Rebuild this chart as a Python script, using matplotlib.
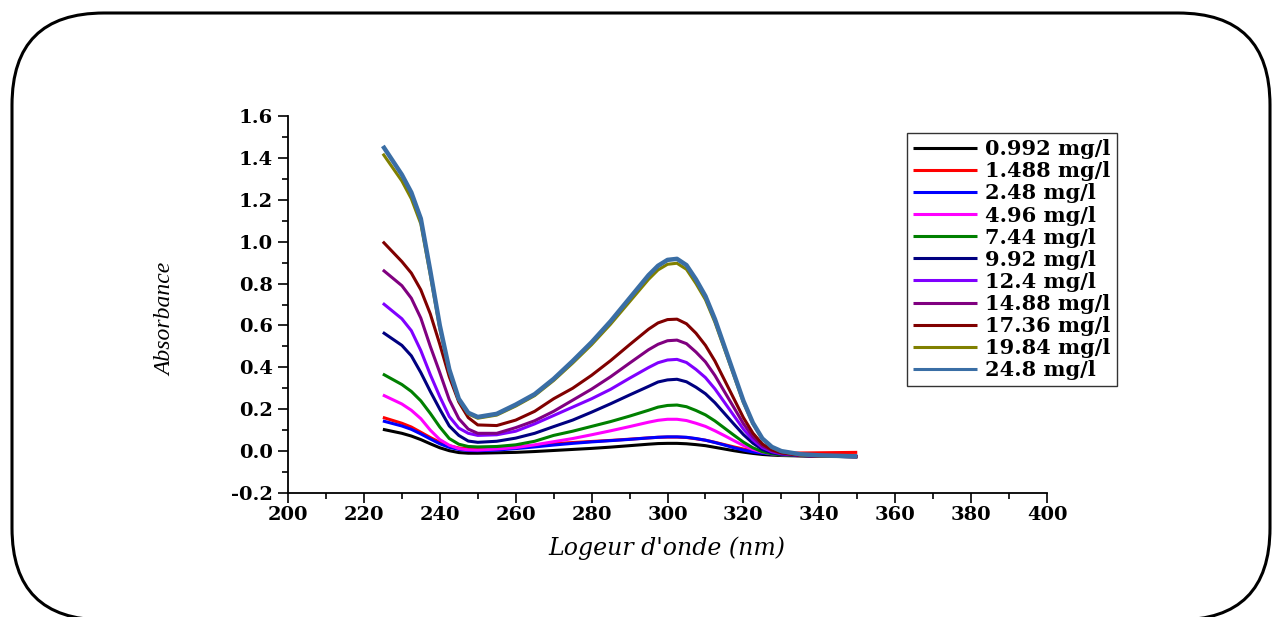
import matplotlib
matplotlib.use("Agg")
import matplotlib.pyplot as plt
from matplotlib.patches import FancyBboxPatch
from matplotlib.ticker import MultipleLocator

plt.rcParams["axes.unicode_minus"] = False

# wavelength grid (nm), denser where the curves bend
wavelength = [225, 230, 232.5, 235, 237.5, 240, 242.5, 245, 247.5, 250, 255, 260, 265, 270, 275, 280,
              285, 290, 295, 297.5, 300, 302.5, 305, 307.5, 310, 312.5, 315, 317.5, 320, 322.5,
              325, 327.5, 330, 335, 340, 350]

# absorbance per concentration
c_0992 = [0.104, 0.085, 0.072, 0.055, 0.035, 0.016, 0.002, -0.007, -0.010, -0.010, -0.008, -0.006,
          -0.002, 0.003, 0.008, 0.013, 0.019, 0.026, 0.033, 0.036, 0.037, 0.037, 0.035, 0.031, 0.026,
          0.018, 0.010, 0.002, -0.005, -0.011, -0.016, -0.019, -0.021, -0.023, -0.024, -0.026]
c_1488 = [0.161, 0.133, 0.115, 0.090, 0.065, 0.042, 0.025, 0.015, 0.011, 0.010, 0.014, 0.020,
          0.027, 0.035, 0.041, 0.046, 0.051, 0.057, 0.063, 0.066, 0.067, 0.067, 0.065, 0.059, 0.052,
          0.042, 0.031, 0.020, 0.010, 0.002, -0.004, -0.008, -0.010, -0.009, -0.008, -0.006]
c_248 = [0.144, 0.120, 0.104, 0.082, 0.058, 0.035, 0.018, 0.008, 0.003, 0.002, 0.005, 0.012,
         0.020, 0.029, 0.037, 0.044, 0.050, 0.056, 0.063, 0.066, 0.068, 0.068, 0.066, 0.060, 0.052,
         0.041, 0.029, 0.016, 0.005, -0.004, -0.010, -0.014, -0.017, -0.020, -0.021, -0.023]
c_496 = [0.268, 0.225, 0.195, 0.155, 0.100, 0.055, 0.028, 0.012, 0.006, 0.005, 0.010, 0.017,
         0.030, 0.045, 0.060, 0.078, 0.097, 0.117, 0.138, 0.147, 0.152, 0.152, 0.146, 0.133, 0.118,
         0.097, 0.074, 0.050, 0.027, 0.008, -0.005, -0.013, -0.018, -0.022, -0.024, -0.026]
c_744 = [0.368, 0.318, 0.285, 0.240, 0.180, 0.115, 0.060, 0.033, 0.022, 0.020, 0.022, 0.030,
         0.047, 0.075, 0.095, 0.118, 0.141, 0.167, 0.195, 0.210, 0.218, 0.220, 0.212, 0.194, 0.173,
         0.144, 0.110, 0.076, 0.043, 0.016, -0.003, -0.013, -0.018, -0.022, -0.025, -0.027]
c_992 = [0.567, 0.505, 0.455, 0.375, 0.285, 0.200, 0.120, 0.075, 0.048, 0.042, 0.047, 0.062,
         0.085, 0.117, 0.148, 0.186, 0.226, 0.268, 0.309, 0.330, 0.340, 0.343, 0.331, 0.305, 0.274,
         0.231, 0.180, 0.129, 0.079, 0.038, 0.008, -0.008, -0.015, -0.021, -0.024, -0.027]
c_124 = [0.706, 0.632, 0.575, 0.480, 0.365, 0.260, 0.165, 0.110, 0.085, 0.075, 0.078, 0.095,
         0.130, 0.170, 0.210, 0.250, 0.295, 0.348, 0.399, 0.422, 0.435, 0.438, 0.423, 0.390, 0.351,
         0.297, 0.233, 0.169, 0.105, 0.054, 0.017, -0.003, -0.013, -0.020, -0.024, -0.027]
c_1488b = [0.865, 0.790, 0.730, 0.635, 0.500, 0.375, 0.245, 0.155, 0.105, 0.085, 0.085, 0.112,
           0.145, 0.190, 0.243, 0.296, 0.355, 0.420, 0.484, 0.510, 0.527, 0.530, 0.513, 0.473, 0.426,
           0.361, 0.284, 0.208, 0.131, 0.069, 0.025, 0.002, -0.010, -0.020, -0.024, -0.027]
c_1736 = [1.000, 0.905, 0.850, 0.770, 0.655, 0.510, 0.355, 0.235, 0.160, 0.125, 0.122, 0.148,
          0.190, 0.250, 0.300, 0.362, 0.432, 0.508, 0.582, 0.612, 0.628, 0.630, 0.608, 0.563, 0.505,
          0.430, 0.340, 0.250, 0.160, 0.086, 0.034, 0.006, -0.008, -0.020, -0.024, -0.026]
c_1984 = [1.420, 1.290, 1.205, 1.085, 0.840, 0.585, 0.380, 0.243, 0.177, 0.157, 0.172, 0.215,
          0.265, 0.337, 0.420, 0.508, 0.606, 0.713, 0.820, 0.865, 0.892, 0.897, 0.868, 0.800, 0.723,
          0.615, 0.488, 0.360, 0.232, 0.130, 0.058, 0.018, -0.002, -0.018, -0.023, -0.027]
c_248b = [1.457, 1.320, 1.235, 1.110, 0.860, 0.600, 0.390, 0.250, 0.183, 0.163, 0.178, 0.222,
          0.272, 0.345, 0.430, 0.520, 0.620, 0.730, 0.840, 0.885, 0.913, 0.918, 0.888, 0.820, 0.740,
          0.630, 0.500, 0.370, 0.240, 0.135, 0.060, 0.020, 0.000, -0.015, -0.020, -0.025]

series = [c_0992, c_1488, c_248, c_496, c_744, c_992, c_124, c_1488b, c_1736, c_1984, c_248b]
labels = ["0.992 mg/l", "1.488 mg/l", "2.48 mg/l", "4.96 mg/l", "7.44 mg/l", "9.92 mg/l",
          "12.4 mg/l", "14.88 mg/l", "17.36 mg/l", "19.84 mg/l", "24.8 mg/l"]
colors = ["black", "#ff0000", "#0000ff", "#ff00ff", "#008000", "#000080",
          "#8000ff", "#800080", "#800000", "#808000", "#3a6ea5"]

fig = plt.figure(figsize=(12.72, 6.17), dpi=100)
ax = fig.add_axes([288 / 1272, 1 - 493 / 617, (1047 - 288) / 1272, (493 - 116) / 617])

for i, (y, lab) in enumerate(zip(series, labels)):
    lw = 3.2 if i == len(series) - 1 else 2.2
    ax.plot(wavelength, y, color=colors[i], linewidth=lw, label=lab,
            solid_joinstyle="round", solid_capstyle="butt")

ax.set_xlim(200, 400)
ax.set_ylim(-0.2, 1.6)
ax.xaxis.set_major_locator(MultipleLocator(20))
ax.xaxis.set_minor_locator(MultipleLocator(10))
ax.yaxis.set_major_locator(MultipleLocator(0.2))
ax.yaxis.set_minor_locator(MultipleLocator(0.1))
ax.yaxis.set_major_formatter(plt.FuncFormatter(lambda v, p: f"{v:.1f}"))

for s in ["top", "right"]:
    ax.spines[s].set_visible(False)
for s in ["left", "bottom"]:
    ax.spines[s].set_linewidth(1.3)

ax.tick_params(which="major", direction="out", length=7, width=1.2)
ax.tick_params(which="minor", direction="out", length=4, width=1.2)
ax.tick_params(axis="y", pad=4)
ax.tick_params(axis="x", pad=2)
for t in ax.get_xticklabels() + ax.get_yticklabels():
    t.set_fontfamily("DejaVu Serif")
    t.set_fontweight("bold")
    t.set_fontsize(14)

fig.text(667 / 1272, 1 - 548 / 617, "Logeur d'onde (nm)", fontfamily="DejaVu Serif",
         fontstyle="italic", fontsize=17, ha="center", va="center")
fig.text(166 / 1272, 1 - 319 / 617, "Absorbance", fontfamily="Liberation Serif",
         fontstyle="italic", fontsize=17, rotation=90, ha="center", va="center")

leg = ax.legend(loc="upper left", bbox_to_anchor=(907 / 1272, 1 - 133 / 617),
                bbox_transform=fig.transFigure, fancybox=False, frameon=True,
                handlelength=3.05, handletextpad=0.4, labelspacing=0.1,
                borderpad=0.3, borderaxespad=0,
                prop={"family": "DejaVu Serif", "weight": "bold", "size": 15})
leg.get_frame().set_edgecolor("black")
leg.get_frame().set_linewidth(1.0)
for h in leg.get_lines():
    h.set_linewidth(2.2)

# rounded frame around the whole picture
frame = FancyBboxPatch((0.12, -0.03), 12.58, 6.07,
                       boxstyle="round,pad=0,rounding_size=0.92",
                       transform=fig.dpi_scale_trans, facecolor="none",
                       edgecolor="black", linewidth=2.2, clip_on=False)
fig.patches.append(frame)

fig.savefig("out.png", dpi=100)
